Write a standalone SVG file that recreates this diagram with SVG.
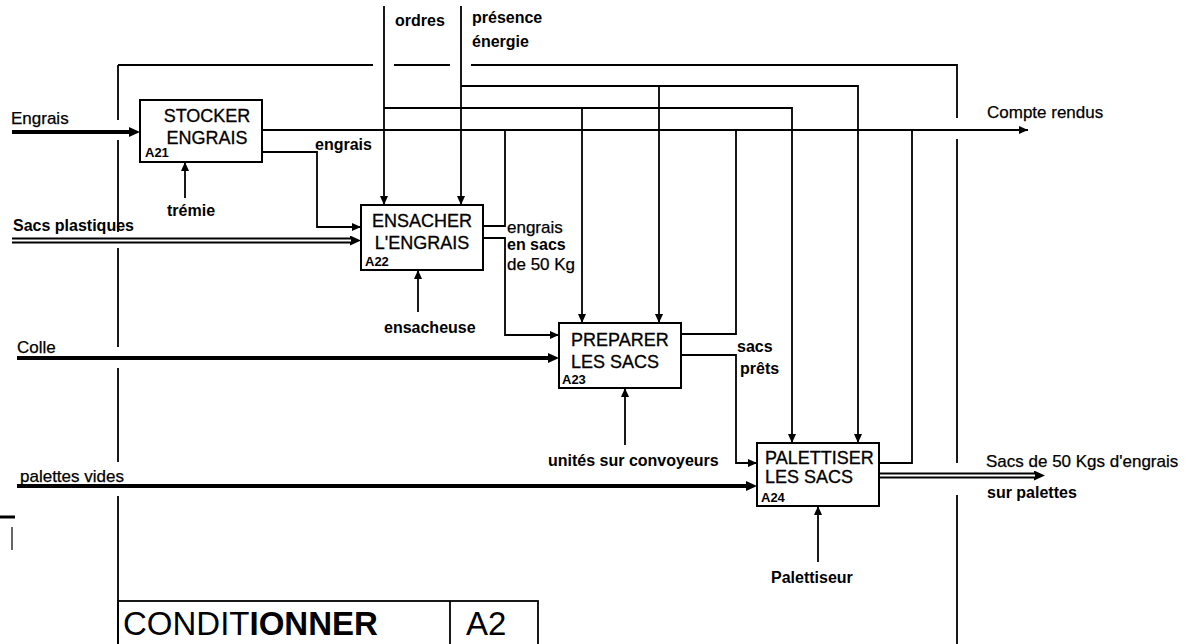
<svg xmlns="http://www.w3.org/2000/svg" width="1190" height="644" viewBox="0 0 1190 644">
<style>
.ln{stroke:#000;stroke-width:1.8;fill:none}
.th{stroke:#000;stroke-width:4;fill:none}
.dbo{stroke:#000;stroke-width:6;fill:none}
.dbi{stroke:#fff;stroke-width:2;fill:none}
.fr{stroke:#000;stroke-width:1.8;fill:none}
.box{fill:#fff;stroke:#000;stroke-width:2}
text{font-family:"Liberation Sans",Arial,sans-serif;fill:#000}
.bt{font-size:18px;stroke:#000;stroke-width:0.3}
.bc{font-size:18px;text-anchor:middle;stroke:#000;stroke-width:0.3}
.id{font-size:13px;font-weight:bold}
.lb{font-size:17px;stroke:#000;stroke-width:0.25}
.lbb{font-size:16px;font-weight:bold}
.ttl{font-size:33px}
</style>
<defs>
<marker id="ah" viewBox="0 0 9 8" refX="9" refY="4" markerWidth="9" markerHeight="8" markerUnits="userSpaceOnUse" orient="auto"><path d="M0,0 L9,4 L0,8 z" fill="#000"/></marker>
<marker id="aht" viewBox="0 0 11 10" refX="3" refY="5" markerWidth="11" markerHeight="10" markerUnits="userSpaceOnUse" orient="auto"><path d="M0,0 L11,5 L0,10 z" fill="#000"/></marker>
</defs>
<rect width="1190" height="644" fill="#fff"/>

<g id="frame">
<path class="fr" d="M118,65 V120 M118,140 V232 M118,248 V347 M118,368 V462 M118,496 V644"/>
<path class="fr" d="M118,65 H373 M394,65 H450 M471,65 H957 V118 M957,139 V463 M957,495 V644"/>
<rect x="118" y="601" width="420" height="50" fill="none" stroke="#000" stroke-width="1.8"/>
<line x1="450" y1="601" x2="450" y2="644" stroke="#000" stroke-width="1.8"/>
<text class="ttl" x="123" y="635">CONDIT<tspan font-weight="bold">IONNER</tspan></text>
<text class="ttl" x="466" y="635">A2</text>
<path d="M0,517 H15" stroke="#000" stroke-width="3"/>
<path d="M12,527 V550" stroke="#000" stroke-width="1.2"/>
</g>

<g id="connectors">
<path class="th" d="M12,132 H132" marker-end="url(#aht)"/>
<path class="dbo" d="M12,240.5 H353" marker-end="url(#aht)"/>
<path class="dbi" d="M12,240.5 H351"/>
<path class="th" d="M17,358 H551" marker-end="url(#aht)"/>
<path class="th" d="M17,486 H749" marker-end="url(#aht)"/>
<path class="ln" d="M262,130 H1028" marker-end="url(#ah)"/>
<path class="ln" d="M262,152 H317 V227 H361" marker-end="url(#ah)"/>
<path class="ln" d="M384,6 V205" marker-end="url(#ah)"/>
<path class="ln" d="M384,108 H792 V443" marker-end="url(#ah)"/>
<path class="ln" d="M582,108 V323" marker-end="url(#ah)"/>
<path class="ln" d="M461,6 V205" marker-end="url(#ah)"/>
<path class="ln" d="M461,86 H858 V443" marker-end="url(#ah)"/>
<path class="ln" d="M659,86 V323" marker-end="url(#ah)"/>
<path class="ln" d="M483,226 H505 V130"/>
<path class="ln" d="M483,238 H505 V335 H559" marker-end="url(#ah)"/>
<path class="ln" d="M681,334 H736 V130"/>
<path class="ln" d="M681,355 H736 V463 H757" marker-end="url(#ah)"/>
<path class="ln" d="M879,463 H912 V130"/>
<path class="dbo" d="M879,475.5 H1037" marker-end="url(#aht)"/>
<path class="dbi" d="M879,475.5 H1035"/>
<path class="ln" d="M185,198 V162" marker-end="url(#ah)"/>
<path class="ln" d="M418,312 V270" marker-end="url(#ah)"/>
<path class="ln" d="M625,445 V388" marker-end="url(#ah)"/>
<path class="ln" d="M818,562 V506" marker-end="url(#ah)"/>
</g>

<g id="A21">
<rect class="box" x="140" y="100" width="122" height="62"/>
<text class="bc" x="207" y="122">STOCKER</text>
<text class="bc" x="207" y="144">ENGRAIS</text>
<text class="id" x="145" y="157">A21</text>
</g>
<g id="A22">
<rect class="box" x="361" y="205" width="122" height="65"/>
<text class="bc" x="422" y="227">ENSACHER</text>
<text class="bc" x="422" y="249">L'ENGRAIS</text>
<text class="id" x="365" y="266">A22</text>
</g>
<g id="A23">
<rect class="box" x="559" y="323" width="122" height="65"/>
<text class="bt" x="571" y="346">PREPARER</text>
<text class="bt" x="571" y="368">LES SACS</text>
<text class="id" x="562" y="384">A23</text>
</g>
<g id="A24">
<rect class="box" x="757" y="443" width="122" height="63"/>
<text class="bt" x="765" y="464">PALETTISER</text>
<text class="bt" x="765" y="483">LES SACS</text>
<text class="id" x="761" y="502">A24</text>
</g>

<g id="labels">
<text class="lbb" x="395" y="26">ordres</text>
<text class="lbb" x="472" y="23">présence</text>
<text class="lbb" x="472" y="47">énergie</text>
<text class="lb" x="11" y="124">Engrais</text>
<text class="lb" x="987" y="118">Compte rendus</text>
<text class="lbb" x="315" y="150">engrais</text>
<text class="lbb" x="167" y="216">trémie</text>
<text class="lbb" x="13" y="231">Sacs plastiques</text>
<text class="lb" x="507" y="233">engrais</text>
<text class="lbb" x="507" y="250">en sacs</text>
<text class="lb" x="507" y="270">de 50 Kg</text>
<text class="lbb" x="384" y="333">ensacheuse</text>
<text class="lb" x="17" y="353">Colle</text>
<text class="lbb" x="737" y="352">sacs</text>
<text class="lbb" x="740" y="374">prêts</text>
<text class="lbb" x="548" y="466">unités sur convoyeurs</text>
<text class="lb" x="20" y="482">palettes vides</text>
<text class="lb" x="986" y="467">Sacs de 50 Kgs d'engrais</text>
<text class="lbb" x="987" y="498">sur palettes</text>
<text class="lbb" x="771" y="583">Palettiseur</text>
</g>
</svg>
